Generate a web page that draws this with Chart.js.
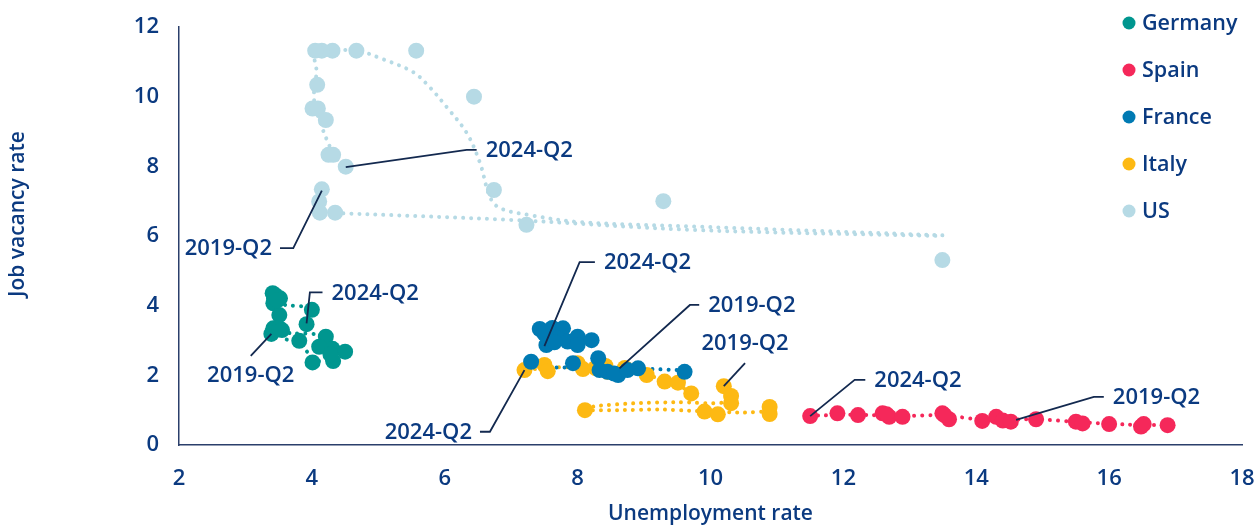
<!DOCTYPE html>
<html>
<head>
<meta charset="utf-8">
<script src="https://cdn.jsdelivr.net/npm/chart.js@4/dist/chart.umd.min.js"></script>
<style>
html, body { margin: 0; padding: 0; background: #fff; }
</style>
</head>
<body>
<canvas id="myChart" width="1257" height="525"></canvas>
<script>
let countries = ['Germany', 'Spain', 'France', 'Italy', 'US'];

// quarterly points 2019-Q2 .. 2024-Q2 (unemployment rate, job vacancy rate)
let germanyUnemp = [3.39, 3.41, 3.43, 3.42, 3.52, 3.51, 3.42, 3.51, 4.00, 3.92, 3.81, 4.21, 4.11, 4.31, 4.50, 4.32, 4.01, 3.45, 3.48, 3.55, 4.28];
let germanyVac   = [3.19, 4.36, 4.21, 4.07, 4.21, 3.73, 3.35, 3.35, 3.88, 3.47, 2.99, 3.11, 2.82, 2.76, 2.68, 2.41, 2.37, 4.30, 4.15, 3.30, 2.60];

let spainUnemp = [11.50, 11.91, 12.22, 12.59, 12.69, 12.89, 13.49, 13.59, 14.09, 14.30, 14.40, 14.52, 14.90, 15.50, 15.60, 16.00, 16.48, 16.52, 16.88, 12.65, 13.52];
let spainVac   = [0.83, 0.91, 0.86, 0.91, 0.81, 0.81, 0.91, 0.74, 0.69, 0.81, 0.70, 0.67, 0.74, 0.67, 0.62, 0.60, 0.53, 0.60, 0.57, 0.88, 0.86];

let franceUnemp = [7.43, 7.62, 7.78, 7.53, 7.70, 7.85, 8.00, 8.00, 8.21, 7.30, 8.31, 7.93, 8.61, 8.91, 9.61, 8.33, 7.50, 7.65, 8.45, 8.55, 8.75];
let franceVac   = [3.33, 3.36, 3.35, 2.87, 3.06, 2.97, 3.11, 2.87, 3.01, 2.39, 2.49, 2.35, 2.01, 2.20, 2.10, 2.15, 3.20, 2.95, 2.10, 2.05, 2.15];

let italyUnemp = [7.20, 7.50, 7.55, 8.00, 8.08, 8.27, 8.42, 8.45, 8.71, 9.04, 9.31, 9.51, 9.71, 10.20, 10.31, 10.31, 8.11, 9.91, 10.11, 10.89, 10.89];
let italyVac   = [2.15, 2.30, 2.12, 2.35, 2.18, 2.21, 2.27, 2.10, 2.21, 2.01, 1.82, 1.79, 1.48, 1.69, 1.41, 1.20, 1.00, 0.96, 0.88, 1.09, 0.89];

let usUnemp = [4.15, 4.11, 4.12, 4.35, 13.49, 9.29, 7.23, 6.74, 6.44, 5.57, 4.67, 4.31, 4.15, 4.05, 4.08, 4.01, 4.09, 4.21, 4.25, 4.32, 4.51];
let usVac   = [7.34, 6.99, 6.67, 6.67, 5.31, 7.00, 6.32, 7.32, 10.00, 11.32, 11.32, 11.32, 11.32, 11.32, 10.34, 9.66, 9.66, 9.33, 8.33, 8.33, 7.99];

// dotted trend paths (null = break)
let germanyTrendX = [3.42, 3.75, 4.05, 4.25, 4.42, 4.30, 4.05, 3.85, 3.60, 3.50, 3.48, 3.45, 3.60, 3.92, 3.95];
let germanyTrendY = [3.25, 3.20, 3.18, 2.95, 2.70, 2.48, 2.42, 2.85, 3.05, 3.30, 3.75, 4.20, 4.02, 3.95, 3.55];
let spainTrendX = [11.50, 12.20, 12.90, 13.50, 14.10, 14.90, 15.60, 16.50, 16.88];
let spainTrendY = [0.84, 0.87, 0.83, 0.86, 0.72, 0.74, 0.65, 0.57, 0.58];
let franceTrendX = [9.61, 9.10, 8.75, 8.40, 8.00, 7.60, 7.35];
let franceTrendY = [2.14, 2.18, 2.15, 2.20, 2.22, 2.23, 2.30];
let italyTrendX = [9.70, 9.45, 9.00, 8.60, 8.10, 7.60, 7.20, null, 10.25, 10.19, 9.53, 8.88, 8.28, 8.11, null, 8.11, 8.60, 9.23, 9.73, 10.49, 10.89];
let italyTrendY = [1.50, 1.80, 2.02, 2.17, 2.24, 2.22, 2.15, null, 1.60, 1.22, 1.23, 1.20, 1.12, 1.03, null, 1.00, 1.00, 1.02, 0.98, 0.93, 0.97];
let usTrendX = [4.35, 7.02, 9.79, 13.49, null, 13.49, 9.79, 8.03, 7.28, 6.83, 6.68, 6.53, 6.33, 6.03, 5.77, 5.52, 5.02, 4.75, 4.06, 4.07, 4.03, 4.06, 4.15, 4.24, 4.35, 4.51];
let usTrendY = [6.66, 6.46, 6.17, 6.00, null, 6.02, 6.27, 6.40, 6.60, 6.80, 7.12, 8.10, 8.96, 9.70, 10.28, 10.71, 11.11, 11.28, 11.31, 10.71, 10.05, 9.65, 9.13, 8.70, 8.27, 7.98];

let xTicks = [2, 4, 6, 8, 10, 12, 14, 16, 18];
let yTicks = [0, 2, 4, 6, 8, 10, 12];

let colors = ['#00968F', '#F5285A', '#007AB3', '#FDB913', '#B6DAE5'];
let navy = '#0B3A80';
let font = "'Open Sans', sans-serif";

// callouts in data coordinates
let callouts = [
    { text: '2024-Q2', at: [4.51, 7.98], bend: [6.33, 8.47], end: [6.48, 8.47], side: 'right' },
    { text: '2019-Q2', at: [4.15, 7.30], bend: [3.72, 5.65], end: [3.52, 5.65], side: 'left' },
    { text: '2024-Q2', at: [3.92, 3.49], bend: [3.97, 4.38], end: [4.16, 4.38], side: 'right' },
    { text: '2019-Q2', at: [3.39, 3.19], bend: [3.08, 2.56], end: [3.08, 2.56], side: 'below' },
    { text: '2024-Q2', at: [7.50, 2.84], bend: [8.03, 5.25], end: [8.26, 5.25], side: 'right' },
    { text: '2019-Q2', at: [8.63, 2.20], bend: [9.69, 4.02], end: [9.83, 4.02], side: 'right' },
    { text: '2019-Q2', at: [10.20, 1.69], bend: [10.52, 2.35], end: [10.52, 2.35], side: 'above' },
    { text: '2024-Q2', at: [7.20, 2.15], bend: [6.68, 0.38], end: [6.53, 0.38], side: 'left' },
    { text: '2024-Q2', at: [11.50, 0.83], bend: [12.17, 1.87], end: [12.33, 1.87], side: 'right' },
    { text: '2019-Q2', at: [14.60, 0.72], bend: [15.77, 1.38], end: [15.92, 1.38], side: 'right' }
];

function toPoints(xs, ys) {
    return xs.map((x, i) => ({ x: x, y: ys[i] }));
}

function toSegments(xs, ys) {
    let segs = [[]];
    xs.forEach((x, i) => {
        if (x === null) segs.push([]);
        else segs[segs.length - 1].push({ x: x, y: ys[i] });
    });
    return segs;
}

let pointSets = [
    [germanyUnemp, germanyVac], [spainUnemp, spainVac], [franceUnemp, franceVac],
    [italyUnemp, italyVac], [usUnemp, usVac]
];
let trendSets = [
    [germanyTrendX, germanyTrendY], [spainTrendX, spainTrendY], [franceTrendX, franceTrendY],
    [italyTrendX, italyTrendY], [usTrendX, usTrendY]
];

let datasets = [];
pointSets.forEach((s, i) => {
    datasets.push({
        label: countries[i],
        data: toPoints(s[0], s[1]),
        backgroundColor: colors[i],
        borderWidth: 0,
        pointRadius: 8,
        showLine: false
    });
});
trendSets.forEach((s, i) => {
    toSegments(s[0], s[1]).forEach(seg => {
        datasets.push({
            label: countries[i] + ' trend',
            data: seg,
            showLine: true,
            borderColor: colors[i],
            borderWidth: 4,
            borderDash: [0.01, 8],
            borderCapStyle: 'round',
            tension: countries[i] === 'US' ? 0.35 : 0.2,
            pointRadius: 0,
            fill: false
        });
    });
});

let calloutPlugin = {
    id: 'callouts',
    afterDatasetsDraw(chart) {
        let ctx = chart.ctx;
        let xs = chart.scales.x, ys = chart.scales.y;
        ctx.save();
        ctx.strokeStyle = '#13294F';
        ctx.lineWidth = 1.8;
        ctx.fillStyle = navy;
        ctx.font = '600 22px ' + font;
        callouts.forEach(c => {
            let p0 = [xs.getPixelForValue(c.at[0]), ys.getPixelForValue(c.at[1])];
            let p1 = [xs.getPixelForValue(c.bend[0]), ys.getPixelForValue(c.bend[1])];
            let p2 = [xs.getPixelForValue(c.end[0]), ys.getPixelForValue(c.end[1])];
            ctx.beginPath();
            ctx.moveTo(p0[0], p0[1]);
            ctx.lineTo(p1[0], p1[1]);
            ctx.lineTo(p2[0], p2[1]);
            ctx.stroke();
            ctx.textBaseline = 'middle';
            if (c.side === 'right') {
                ctx.textAlign = 'left';
                ctx.fillText(c.text, p2[0] + 9, p2[1] + 1);
            } else if (c.side === 'left') {
                ctx.textAlign = 'right';
                ctx.fillText(c.text, p2[0] - 8, p2[1] + 1);
            } else if (c.side === 'below') {
                ctx.textAlign = 'center';
                ctx.fillText(c.text, p2[0], p2[1] + 20);
            } else {
                ctx.textAlign = 'center';
                ctx.fillText(c.text, p2[0], p2[1] - 19);
            }
        });
        ctx.restore();
    }
};

let legendPlugin = {
    id: 'sideLegend',
    afterDraw(chart) {
        let ctx = chart.ctx;
        ctx.save();
        ctx.font = '600 21.5px ' + font;
        ctx.textBaseline = 'middle';
        ctx.textAlign = 'left';
        countries.forEach((name, i) => {
            let y = 23 + i * 47;
            ctx.fillStyle = colors[i];
            ctx.beginPath();
            ctx.arc(1129, y, 6.5, 0, Math.PI * 2);
            ctx.fill();
            ctx.fillStyle = navy;
            ctx.fillText(name, 1142, y + 1);
        });
        // y axis title
        ctx.translate(18, 214);
        ctx.rotate(-Math.PI / 2);
        ctx.textAlign = 'center';
        ctx.font = '600 21px ' + font;
        ctx.fillText('Job vacancy rate', 0, 0);
        ctx.restore();
    }
};

let ctx = document.getElementById('myChart').getContext('2d');

let chart = new Chart(ctx, {
    type: 'scatter',
    data: { datasets: datasets },
    options: {
        responsive: false,
        animation: false,
        layout: { padding: { top: 27, right: 15, left: 0, bottom: 0 } },
        plugins: {
            legend: { display: false },
            tooltip: { enabled: false }
        },
        scales: {
            x: {
                type: 'linear',
                min: 2,
                max: 18,
                afterBuildTicks: s => { s.ticks = xTicks.map(v => ({ value: v })); },
                afterFit: s => { s.height = 80; s.paddingLeft = 0; s.paddingRight = 0; },
                grid: { display: false, drawTicks: false },
                border: { display: true, color: '#2B3F6B', width: 1.5 },
                ticks: { color: navy, font: { family: font, size: 22, weight: '600' }, padding: 21 },
                title: {
                    display: true, text: 'Unemployment rate', color: navy,
                    font: { family: font, size: 21, weight: '600' }, padding: { top: 0, bottom: -2 }
                }
            },
            y: {
                type: 'linear',
                min: 0,
                max: 12,
                afterBuildTicks: s => { s.ticks = yTicks.map(v => ({ value: v })); },
                afterFit: s => { s.width = 179; s.paddingTop = 0; s.paddingBottom = 0; },
                grid: { display: false, drawTicks: false },
                border: { display: true, color: '#2B3F6B', width: 1.5 },
                ticks: { color: navy, font: { family: font, size: 22, weight: '600' }, padding: 20 }
            }
        }
    },
    plugins: [calloutPlugin, legendPlugin]
});
</script>
</body>
</html>
